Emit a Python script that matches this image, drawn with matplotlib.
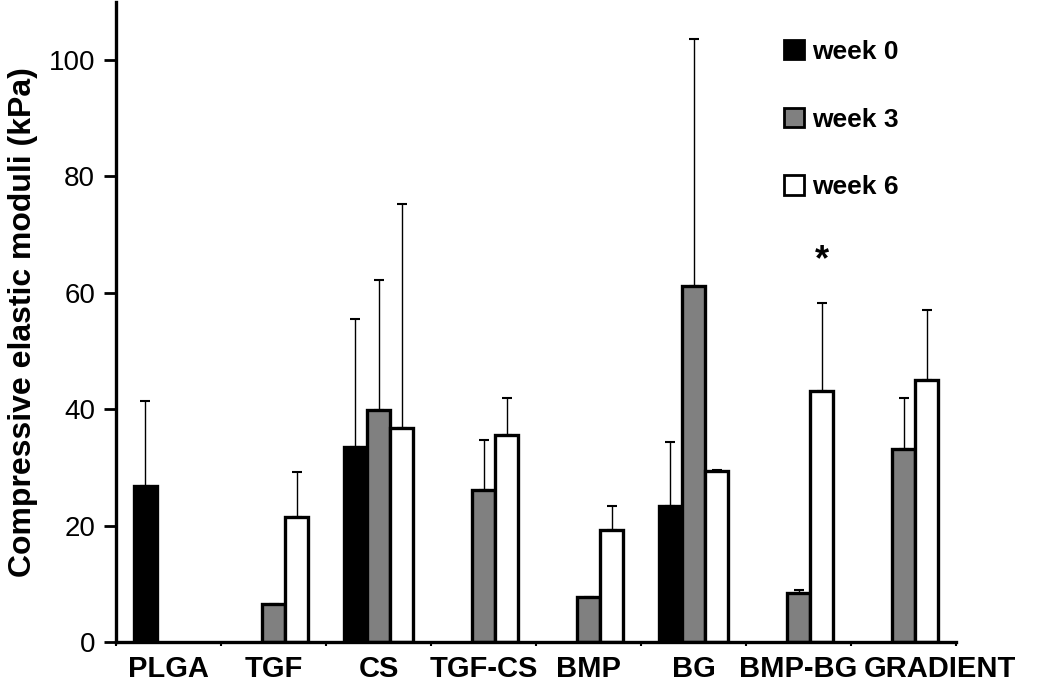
import numpy as np
import matplotlib
matplotlib.use('Agg')
import matplotlib.pyplot as plt
from matplotlib.patches import Patch

plt.rcParams['font.family'] = ['Liberation Sans', 'DejaVu Sans']

categories = ['PLGA', 'TGF', 'CS', 'TGF-CS', 'BMP', 'BG', 'BMP-BG', 'GRADIENT']
nan = np.nan

# mean values (kPa) and upper error bars
week0 = [26.8, nan, 33.5, nan, nan, 23.4, nan, nan]
week0_err = [14.6, nan, 22.0, nan, nan, 10.9, nan, nan]
week3 = [nan, 6.5, 39.8, 26.2, 7.8, 61.2, 8.4, 33.2]
week3_err = [nan, nan, 22.4, 8.5, nan, 42.5, 0.5, 8.7]
week6 = [nan, 21.5, 36.8, 35.6, 19.3, 29.3, 43.1, 45.1]
week6_err = [nan, 7.7, 38.4, 6.3, 4.1, 0.3, 15.1, 12.0]

series = [('week 0', week0, week0_err, 'black'),
          ('week 3', week3, week3_err, '#808080'),
          ('week 6', week6, week6_err, 'white')]

fig = plt.figure(figsize=(10.5, 6.92), dpi=100)
ax = fig.add_axes([0.1105, 0.0723, 0.80, 0.925])

x = np.arange(len(categories))
w = 0.22
for i, (name, vals, errs, color) in enumerate(series):
    vals = np.array(vals, dtype=float)
    errs = np.array(errs, dtype=float)
    pos = x + (i - 1) * w
    ax.bar(pos, vals, width=w, color=color, edgecolor='black', linewidth=2.4, zorder=2)
    lower = np.zeros_like(errs)
    ax.errorbar(pos, vals, yerr=[lower, errs], fmt='none', ecolor='black',
                elinewidth=1.0, capsize=3.5, capthick=1.5, zorder=1)

# significance mark above BMP-BG week 6
ax.text(x[6] + w, 65.5, '*', ha='center', va='center', fontsize=26, fontweight='bold')

ax.set_xlim(-0.5, len(categories) - 0.5)
ax.set_ylim(0, 110)
ax.set_yticks([0, 20, 40, 60, 80, 100])
ax.tick_params(axis='y', labelsize=20, width=2, length=9, pad=6)
ax.set_xticks(np.arange(len(categories) + 1) - 0.5)
ax.set_xticklabels([])
ax.tick_params(axis='x', length=3, width=1.5)

# category labels (the last one is pushed right in the original)
for xi, name in zip(x, categories):
    if name == 'GRADIENT':
        ax.text(xi - 0.38, -2.3, name, ha='left', va='top', fontsize=21,
                fontweight='bold', clip_on=False)
    else:
        ax.text(xi, -2.3, name, ha='center', va='top', fontsize=21,
                fontweight='bold', clip_on=False)

for s in ['top', 'right']:
    ax.spines[s].set_visible(False)
for s in ['left', 'bottom']:
    ax.spines[s].set_linewidth(2.4)

ax.set_ylabel('Compressive elastic moduli (kPa)', fontsize=23, fontweight='bold', labelpad=8)

handles = [Patch(facecolor=c, edgecolor='black', linewidth=2) for _, _, _, c in series]
fig.legend(handles, [s[0] for s in series], loc='upper left',
           bbox_to_anchor=(784 / 1050, 1 - 40 / 692), frameon=False,
           prop={'size': 19, 'weight': 'bold'}, handlelength=0.75, handleheight=0.75,
           handletextpad=0.3, labelspacing=1.65, borderpad=0, borderaxespad=0)

fig.savefig('out.png', dpi=100)
